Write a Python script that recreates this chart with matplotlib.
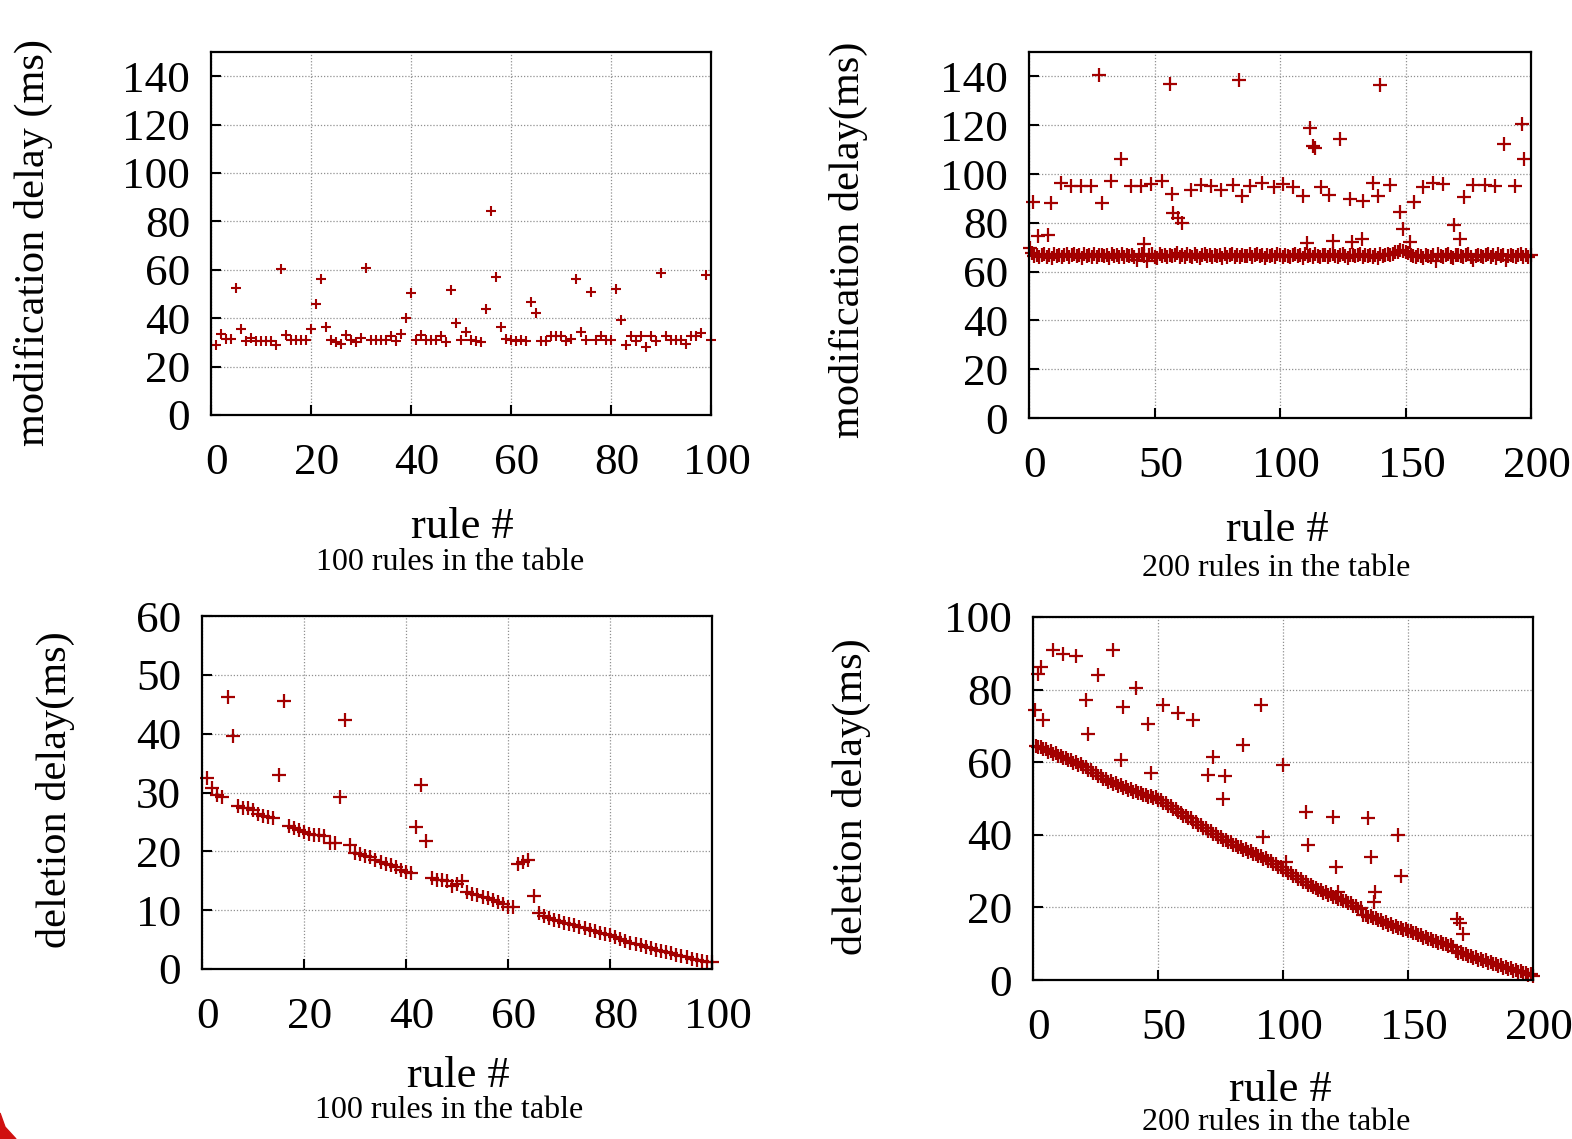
import matplotlib
matplotlib.use("Agg")
import matplotlib.pyplot as plt
import matplotlib.patches as mpatches
import matplotlib.transforms as mtransforms
import numpy as np

plt.rcParams['font.family'] = ['Liberation Serif', 'DejaVu Serif']

RED = '#a30000'

# ---- modification delay, 100 rules ----
mod100_x = list(range(1, 101))
mod100_y = [29, 33.5, 31.3, 31.3, 52.3, 35.7, 30.7, 32, 30.7, 30.7,
            30.7, 30.7, 29, 60.5, 33, 31, 31, 31, 31, 35.4,
            46, 56, 36.5, 31, 30, 29.5, 33, 31, 30, 32,
            60.6, 31, 31, 31, 31, 32.5, 30.5, 33.5, 40, 50.3,
            31, 33, 31, 31, 31, 32.5, 30, 51.6, 38, 31,
            34.3, 31, 30.5, 30, 44, 84.4, 57, 36.5, 31.5, 31,
            30.5, 31, 30.5, 46.8, 42.3, 30.5, 30.5, 32.5, 32.5, 32.5,
            30.5, 31.5, 56, 34.4, 31, 51, 31, 32.5, 31, 31,
            52.2, 39.3, 29, 32.5, 30.5, 32.5, 28.2, 32.5, 30.5, 58.5,
            32.5, 31, 31, 31, 29.5, 32.5, 32.5, 34, 57.7, 31]

# ---- modification delay, 200 rules ----
mod200_x = list(range(1, 201))
mod200_y = [67.5, 66.2, 67.0, 65.8, 66.9, 67.3, 66.1, 66.8, 65.5, 67.2,
            66.4, 67.0, 66.0, 66.7, 67.4, 65.9, 66.6, 67.1, 66.3, 66.8,
            65.7, 67.2, 66.5, 66.9, 66.1, 67.3, 65.8, 66.6, 67.0, 66.2,
            66.9, 65.6, 67.1, 66.4, 66.8, 66.0, 67.2, 65.9, 66.7, 66.3,
            67.0, 66.1, 64.8, 66.9, 67.4, 66.2, 64.2, 66.7, 67.1, 66.0,
            65.5, 67.3, 66.4, 66.8, 65.9, 67.0, 66.3, 66.6, 67.5, 66.1,
            66.9, 65.8, 67.2, 66.5, 66.0, 67.1, 66.3, 65.7, 66.8, 67.4,
            66.2, 66.7, 65.9, 67.0, 66.4, 66.9, 65.6, 67.2, 66.1, 66.6,
            67.3, 66.0, 66.8, 65.8, 67.0, 66.5, 66.2, 67.1, 65.9, 66.7,
            67.4, 66.3, 66.9, 65.7, 67.0, 66.4, 66.8, 66.1, 67.2, 66.6,
            66.0, 67.0, 66.5, 65.8, 66.9, 67.3, 66.2, 66.7, 65.6, 67.1,
            66.4, 66.8, 66.0, 67.2, 66.3, 65.9, 66.7, 67.0, 66.1, 66.6,
            67.4, 66.2, 65.8, 66.9, 67.1, 66.4, 65.5, 66.8, 67.0, 66.2,
            66.6, 67.3, 65.9, 66.7, 66.3, 67.0, 66.1, 66.8, 65.7, 67.2,
            66.5, 66.9, 67.4, 66.8, 67.2, 67.9, 68.2, 69.0, 68.4, 67.9,
            67.6, 67.0, 66.4, 65.8, 66.9, 66.2, 65.6, 67.0, 66.5, 66.1,
            66.8, 64.5, 67.1, 66.3, 65.9, 66.7, 67.2, 66.0, 65.4, 66.6,
            67.0, 66.2, 65.8, 66.9, 67.3, 66.1, 64.6, 66.5, 67.0, 66.3,
            65.9, 66.8, 67.2, 66.0, 66.6, 65.7, 67.1, 66.4, 66.9, 64.7,
            66.2, 67.0, 66.5, 65.8, 66.8, 67.3, 66.1, 66.6, 66.0, 66.9]
mod200_hi_x = [0.2, 1.6, 3.6, 7.6, 8.9, 12.9, 16.9, 20.9, 24.8, 27.9,
               28.9, 32.8, 36.8, 40.8, 44.8, 46, 48.7, 53.1, 56, 57.1,
               57.3, 59.3, 60.9, 64.6, 68.6, 72.6, 76.6, 81.2, 83.6, 85,
               88.2, 93, 97.5, 101.3, 105.3, 109.2, 110.6, 112.1, 113.1, 113.8,
               116.5, 119.5, 121.1, 124, 127.7, 128.8, 132.8, 133, 137, 139,
               140, 144, 148, 149, 151.6, 153.2, 157, 161, 165, 169.2,
               171.8, 173.3, 177, 181.5, 185.8, 189.2, 193.5, 196.4, 197.4]
mod200_hi_y = [69.8, 88.4, 74.5, 75.2, 88.2, 96.3, 94.9, 94.9, 94.9, 140.4,
               88.2, 97, 106, 94.9, 94.9, 71.2, 96, 97, 137, 91.9,
               84, 82, 80, 93.6, 95.6, 94.9, 93.4, 95.6, 138.6, 90.8,
               94.9, 96.5, 94.6, 96, 94.6, 90.8, 71.8, 118.7, 111.5, 110.5,
               94.6, 91.5, 72.5, 114.2, 89.8, 72.1, 73.5, 88.8, 96.3, 91.1,
               136.3, 95.6, 84.3, 77.5, 72, 88.4, 94.6, 96.5, 96, 78.9,
               73.5, 90.6, 95.6, 95.6, 95.2, 112.3, 95.2, 120.4, 106]

# ---- deletion delay, 100 rules ----
del100_x = list(range(1, 101))
del100_y = [32.4, 30.7, 29.6, 29.2, 46.3, 39.6, 27.7, 27.3, 27.3, 27.1,
            26.3, 26.0, 25.8, 25.6, 33, 45.6, 24.3, 23.9, 23.6, 23.3,
            23.0, 22.8, 22.8, 22.6, 21.4, 21.4, 29.2, 42.3, 21.1, 19.7,
            19.5, 19.2, 19.0, 18.6, 18.2, 17.8, 17.7, 17.3, 16.8, 16.5,
            16.3, 24.2, 31.3, 21.7, 15.4, 15.1, 15.1, 15.0, 14.1, 14.4,
            15.0, 13.1, 12.8, 12.6, 12.3, 12.0, 11.7, 11.4, 11.1, 10.6,
            10.5, 17.8, 18.2, 18.5, 12.4, 9.5, 9.0, 8.6, 8.4, 8.2,
            7.9, 7.6, 7.4, 7.2, 6.9, 6.7, 6.5, 6.2, 5.9, 5.7,
            5.4, 5.1, 4.8, 4.5, 4.3, 4.1, 3.8, 3.6, 3.3, 3.1,
            2.9, 2.7, 2.4, 2.2, 2.0, 1.7, 1.5, 1.3, 1.2, 1.2]

# ---- deletion delay, 200 rules ----
del200_x = list(range(1, 201))
del200_y = [64.6, 64.1, 64.2, 63.5, 63.6, 62.9, 63.0, 62.3, 62.4, 61.7,
            61.8, 61.1, 61.2, 60.5, 60.6, 59.9, 60.0, 59.3, 59.4, 58.7,
            58.6, 57.8, 57.8, 57.0, 57.0, 56.2, 56.2, 55.4, 55.4, 54.6,
            54.7, 54.0, 54.2, 53.5, 53.6, 53.0, 53.1, 52.4, 52.5, 51.9,
            52.0, 51.4, 51.5, 50.9, 51.1, 50.5, 50.7, 50.2, 50.3, 49.5,
            49.5, 48.7, 48.7, 47.8, 47.8, 47.0, 47.0, 46.2, 46.1, 45.3,
            45.3, 44.5, 44.5, 43.6, 43.6, 42.8, 42.7, 41.9, 41.8, 41.0,
            41.0, 40.2, 40.1, 39.3, 39.3, 38.6, 38.6, 37.9, 37.9, 37.2,
            37.3, 36.6, 36.6, 35.9, 36.0, 35.3, 35.4, 34.7, 34.8, 34.1,
            34.2, 33.4, 33.5, 32.7, 32.7, 31.9, 31.9, 31.1, 31.1, 30.3,
            30.3, 29.5, 29.5, 28.7, 28.7, 27.9, 27.9, 27.1, 27.1, 26.3,
            26.3, 25.5, 25.4, 24.7, 24.8, 24.1, 24.2, 23.5, 23.6, 22.9,
            23.0, 22.3, 22.4, 21.7, 21.8, 21.1, 21.2, 20.4, 20.4, 19.6,
            19.7, 18.0, 18.0, 17.4, 17.6, 17.0, 17.1, 16.4, 16.5, 15.8,
            15.9, 15.2, 15.3, 14.7, 14.8, 14.2, 14.4, 13.8, 14.1, 13.5,
            13.6, 12.9, 13.0, 12.3, 12.4, 11.7, 11.8, 11.2, 11.3, 10.7,
            10.8, 10.2, 10.4, 9.8, 10.0, 9.4, 9.6, 9.0, 8.1, 7.5,
            7.7, 7.1, 7.2, 6.6, 6.7, 6.1, 6.2, 5.6, 5.8, 5.2,
            5.4, 4.7, 4.9, 4.3, 4.5, 3.9, 4.1, 3.4, 3.6, 3.0,
            3.2, 2.6, 2.8, 2.2, 2.4, 1.8, 2.0, 1.4, 1.6, 1.2]
del200_hi_x = [0.7, 2, 3.1, 4, 8, 12, 17, 21, 22, 26,
               32, 35, 36, 41, 46, 47, 52, 58, 64, 69.8,
               72, 76, 76.7, 84, 91.1, 92, 100, 101.3, 109.1, 110,
               120, 121, 122, 134, 135, 136.3, 136.7, 146, 147, 169.4,
               170.7, 172]
del200_hi_y = [74.5, 84.4, 86.1, 71.6, 91, 89.7, 89.2, 77.1, 67.7, 84,
               91, 60.7, 75.1, 80.5, 70.4, 56.9, 75.7, 73.6, 71.6, 56.4,
               61.5, 50, 56.1, 64.7, 75.7, 39.4, 59.2, 32.6, 46.3, 37.2,
               44.8, 31.2, 24.3, 44.5, 34, 21.6, 24.3, 39.9, 28.6, 16.7,
               15.8, 12.8]

W, H = 1572, 1139
fig = plt.figure(figsize=(W / 100, H / 100), dpi=100)


def px_axes(l, t, r, b):
    return fig.add_axes([l / W, 1 - b / H, (r - l) / W, (b - t) / H])


def style(ax, xmax, ymax, ystep, xstep):
    ax.set_xlim(0, xmax)
    ax.set_ylim(0, ymax)
    ax.set_xticks(np.arange(0, xmax + 1, xstep))
    ax.set_yticks(np.arange(0, ymax + 1, ystep) if ymax % 20 == 0 and ymax != 60 and ymax != 150
                  else np.arange(0, ymax + 1, ystep))
    ax.grid(True, color='#909090', linestyle=(0, (1, 1.5)), linewidth=0.9)
    ax.tick_params(direction='in', length=7, width=1.5, labelsize=32.5,
                   top=False, right=False)
    ax.tick_params(axis='x', pad=20)
    ax.tick_params(axis='y', pad=15)
    for s in ax.spines.values():
        s.set_linewidth(1.6)
    ax.set_axisbelow(True)
    # tick labels sit a few pixels right of their ticks in the original
    shift = mtransforms.ScaledTranslation(6 / 100, 0, fig.dpi_scale_trans)
    for lab in ax.get_xticklabels():
        lab.set_transform(lab.get_transform() + shift)


MS = 10
MEW = 1.6

# top left
ax1 = px_axes(211, 52, 711, 415)
ax1.plot(mod100_x, mod100_y, '+', color=RED, ms=7, mew=1.5, clip_on=False)
style(ax1, 100, 150, 20, 20)
ax1.set_yticks(np.arange(0, 141, 20))

# top right
ax2 = px_axes(1029, 52, 1531, 418)
ax2.plot(mod200_x, mod200_y, '+', color=RED, ms=MS, mew=MEW, clip_on=False)
ax2.plot(mod200_hi_x, mod200_hi_y, '+', color=RED, ms=MS, mew=MEW, clip_on=False)
style(ax2, 200, 150, 20, 50)
ax2.set_yticks(np.arange(0, 141, 20))

# bottom left
ax3 = px_axes(202, 616, 712, 969)
ax3.plot(del100_x, del100_y, '+', color=RED, ms=MS, mew=MEW, clip_on=False)
style(ax3, 100, 60, 10, 20)
ax3.set_yticks(np.arange(0, 61, 10))

# bottom right
ax4 = px_axes(1033, 617, 1533, 980)
ax4.plot(del200_x, del200_y, '+', color=RED, ms=MS, mew=MEW, clip_on=False)
ax4.plot(del200_hi_x, del200_hi_y, '+', color=RED, ms=MS, mew=MEW, clip_on=False)
style(ax4, 200, 100, 20, 50)
ax4.set_yticks(np.arange(0, 101, 20))


def ftext(x, y, s, size, rot=0):
    fig.text(x / W, 1 - y / H, s, fontsize=size, ha='center', va='center', rotation=rot)


ftext(33, 242, 'modification delay (ms)', 30.5, 90)
ftext(848, 240, 'modification delay(ms)', 30.5, 90)
ftext(55, 790, 'deletion delay(ms)', 30.5, 90)
ftext(851, 797, 'deletion delay(ms)', 30.5, 90)

ftext(462, 527, 'rule #', 32)
ftext(450, 563, '100 rules in the table', 23)
ftext(1277, 530, 'rule #', 32)
ftext(1276, 569, '200 rules in the table', 23)
ftext(458, 1076, 'rule #', 32)
ftext(449, 1111, '100 rules in the table', 23)
ftext(1280, 1090, 'rule #', 32)
ftext(1276, 1122, '200 rules in the table', 23)

# red slide corner at bottom left
corner = mpatches.Polygon([[0, 0], [0, 26 / H], [5 / W, 12 / H], [16 / W, 0]],
                          closed=True, transform=fig.transFigure, color='#d01010')
fig.patches.append(corner)

fig.savefig('out.png', dpi=100)
